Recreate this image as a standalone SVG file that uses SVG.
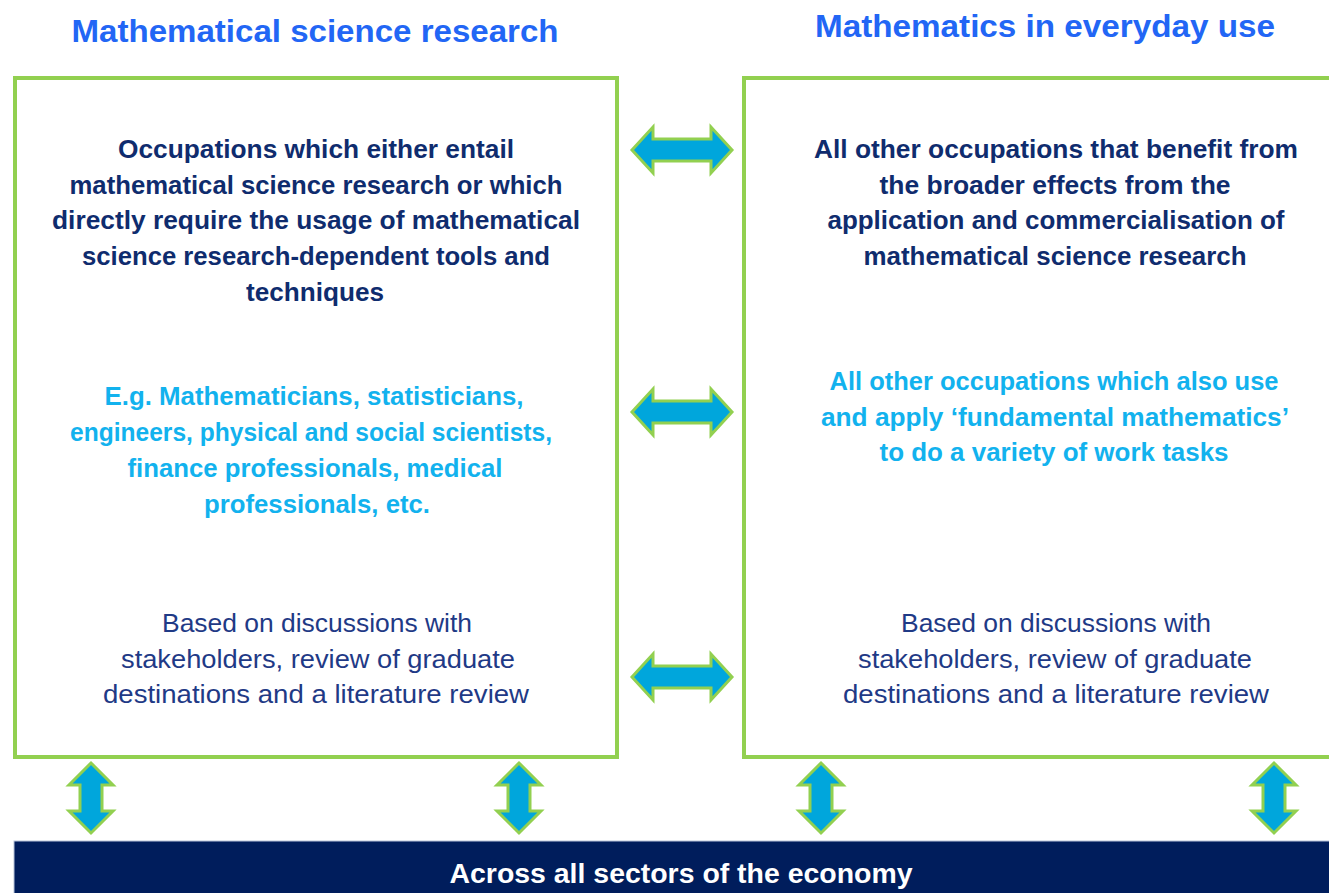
<svg xmlns="http://www.w3.org/2000/svg" width="1329" height="893" viewBox="0 0 1329 893">
<style>
text { font-family: "Liberation Sans", Arial, sans-serif; text-anchor: middle; }
.title { font-size: 31px; font-weight: bold; fill: #2266F5; }
.dark { font-size: 25px; font-weight: bold; fill: #0F2C6E; }
.cyan { font-size: 25px; font-weight: bold; fill: #12B2EE; }
.reg { font-size: 25px; fill: #1F3A86; }
.bar { font-size: 28px; font-weight: bold; fill: #FFFFFF; }
.box { fill: #FFFFFF; stroke: #92D050; stroke-width: 4; }
.arrow { fill: #00A6DC; stroke: #92D050; stroke-width: 3; stroke-linejoin: miter; }
</style>
<defs>
<path id="harrow" d="M -50 0 L -29 -23 L -29 -11 L 29 -11 L 29 -23 L 50 0 L 29 23 L 29 11 L -29 11 L -29 23 Z"/>
<path id="varrow" d="M 0 -35 L 22 -13 L 11 -13 L 11 13 L 22 13 L 0 35 L -22 13 L -11 13 L -11 -13 L -22 -13 Z"/>
</defs>
<rect width="1329" height="893" fill="#FFFFFF"/>

<g id="title-left">
<text class="title" x="315" y="42" textLength="487" lengthAdjust="spacingAndGlyphs">Mathematical science research</text>
</g>
<g id="title-right">
<text class="title" x="1045" y="37" textLength="460" lengthAdjust="spacingAndGlyphs">Mathematics in everyday use</text>
</g>

<g id="box-left">
<rect class="box" x="15" y="78" width="602" height="679"/>
<text class="dark" x="316" y="158" textLength="396" lengthAdjust="spacingAndGlyphs">Occupations which either entail</text>
<text class="dark" x="316" y="194" textLength="493" lengthAdjust="spacingAndGlyphs">mathematical science research or which</text>
<text class="dark" x="316" y="229" textLength="528" lengthAdjust="spacingAndGlyphs">directly require the usage of mathematical</text>
<text class="dark" x="316" y="265" textLength="468" lengthAdjust="spacingAndGlyphs">science research-dependent tools and</text>
<text class="dark" x="315" y="301" textLength="138" lengthAdjust="spacingAndGlyphs">techniques</text>
<text class="cyan" x="314" y="405" textLength="419" lengthAdjust="spacingAndGlyphs">E.g. Mathematicians, statisticians,</text>
<text class="cyan" x="311" y="441" textLength="482" lengthAdjust="spacingAndGlyphs">engineers, physical and social scientists,</text>
<text class="cyan" x="315" y="477" textLength="375" lengthAdjust="spacingAndGlyphs">finance professionals, medical</text>
<text class="cyan" x="317" y="513" textLength="226" lengthAdjust="spacingAndGlyphs">professionals, etc.</text>
<text class="reg" x="317" y="632" textLength="310" lengthAdjust="spacingAndGlyphs">Based on discussions with</text>
<text class="reg" x="318" y="668" textLength="394" lengthAdjust="spacingAndGlyphs">stakeholders, review of graduate</text>
<text class="reg" x="316" y="703" textLength="426" lengthAdjust="spacingAndGlyphs">destinations and a literature review</text>
</g>

<g id="box-right">
<rect class="box" x="744" y="78" width="600" height="679"/>
<text class="dark" x="1056" y="158" textLength="484" lengthAdjust="spacingAndGlyphs">All other occupations that benefit from</text>
<text class="dark" x="1055" y="194" textLength="351" lengthAdjust="spacingAndGlyphs">the broader effects from the</text>
<text class="dark" x="1056" y="229" textLength="457" lengthAdjust="spacingAndGlyphs">application and commercialisation of</text>
<text class="dark" x="1055" y="265" textLength="383" lengthAdjust="spacingAndGlyphs">mathematical science research</text>
<text class="cyan" x="1054" y="390" textLength="449" lengthAdjust="spacingAndGlyphs">All other occupations which also use</text>
<text class="cyan" x="1055" y="426" textLength="468" lengthAdjust="spacingAndGlyphs">and apply ‘fundamental mathematics’</text>
<text class="cyan" x="1054" y="461" textLength="349" lengthAdjust="spacingAndGlyphs">to do a variety of work tasks</text>
<text class="reg" x="1056" y="632" textLength="310" lengthAdjust="spacingAndGlyphs">Based on discussions with</text>
<text class="reg" x="1055" y="668" textLength="394" lengthAdjust="spacingAndGlyphs">stakeholders, review of graduate</text>
<text class="reg" x="1056" y="703" textLength="426" lengthAdjust="spacingAndGlyphs">destinations and a literature review</text>
</g>

<g id="economy-bar">
<rect x="14" y="841" width="1320" height="60" fill="#001D5C" stroke="#B8C4DA" stroke-width="1"/>
<text class="bar" x="681" y="883" textLength="463" lengthAdjust="spacingAndGlyphs">Across all sectors of the economy</text>
</g>

<g id="connectors">
<use href="#harrow" class="arrow" transform="translate(682,150)"/>
<use href="#harrow" class="arrow" transform="translate(682,412)"/>
<use href="#harrow" class="arrow" transform="translate(682,677)"/>
<use href="#varrow" class="arrow" transform="translate(91,798)"/>
<use href="#varrow" class="arrow" transform="translate(519,798)"/>
<use href="#varrow" class="arrow" transform="translate(821,798)"/>
<use href="#varrow" class="arrow" transform="translate(1274,798)"/>
</g>
</svg>
